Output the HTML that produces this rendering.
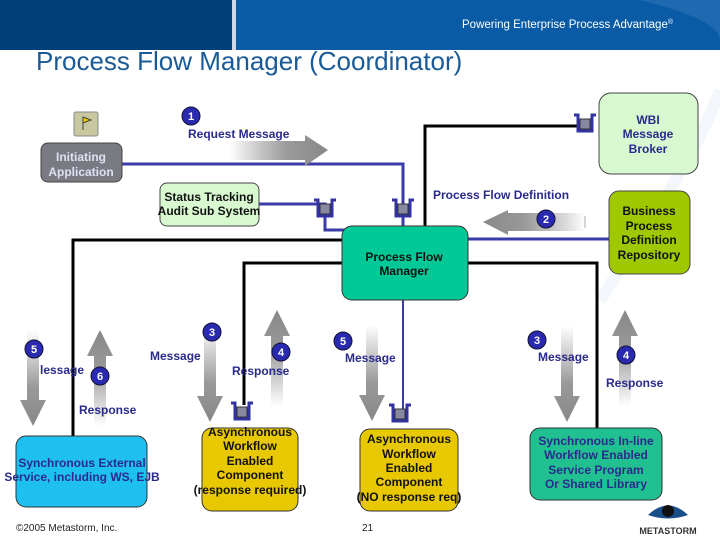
<!DOCTYPE html>
<html><head><meta charset="utf-8"><style>
body{margin:0;width:720px;height:540px;overflow:hidden;background:#fff}
svg{display:block}
text{font-family:"Liberation Sans Narrow","Liberation Sans",sans-serif}
.l{font-size:12px;font-weight:bold;fill:#2a2a8c}
.b{font-size:12px;font-weight:bold;fill:#111}
.n{font-size:11px;font-weight:bold;fill:#fff}
</style></head><body>
<svg width="720" height="540" viewBox="0 0 720 540">
<defs>
<linearGradient id="gh" x1="0" x2="1" y1="0" y2="0"><stop offset="0" stop-color="#888" stop-opacity="0"/><stop offset="0.6" stop-color="#999"/><stop offset="1" stop-color="#888"/></linearGradient>
<linearGradient id="ghl" x1="1" x2="0" y1="0" y2="0"><stop offset="0" stop-color="#888" stop-opacity="0"/><stop offset="0.6" stop-color="#999"/><stop offset="1" stop-color="#888"/></linearGradient>
<linearGradient id="gd" x1="0" x2="0" y1="0" y2="1"><stop offset="0" stop-color="#999" stop-opacity="0"/><stop offset="0.6" stop-color="#999"/><stop offset="1" stop-color="#888"/></linearGradient>
<linearGradient id="gu" x1="0" x2="0" y1="1" y2="0"><stop offset="0" stop-color="#999" stop-opacity="0"/><stop offset="0.6" stop-color="#999"/><stop offset="1" stop-color="#888"/></linearGradient>
<g id="q"><path d="M-11,0 h4 v16 h14 v-16 h4" fill="none" stroke="#3232a0" stroke-width="3"/><rect x="-5" y="4" width="10" height="10" fill="#8888a0" stroke="#333" stroke-width="1"/></g>
<g id="dn"><path d="M-6,0 h12 v70 h7 l-13,26 l-13,-26 h7z" fill="url(#gd)"/></g>
<g id="up"><path d="M-6,96 h12 v-70 h7 l-13,-26 l-13,26 h7z" fill="url(#gu)"/></g>
</defs>
<!-- header -->
<rect x="0" y="0" width="720" height="50" fill="#0a5ba6"/>
<rect x="0" y="0" width="232" height="50" fill="#003f7a"/>
<rect x="232" y="0" width="4" height="50" fill="#d0d8e8"/>
<path d="M640,0 Q720,20 720,40 L720,0z" fill="#3377bb" opacity="0.5"/>
<text x="462" y="28" font-size="11.5" fill="#fff" style="font-family:'Liberation Sans',sans-serif">Powering Enterprise Process Advantage<tspan font-size="7" dy="-4">®</tspan></text>
<path d="M600,300 Q700,150 720,90" fill="none" stroke="#f3f6fa" stroke-width="12"/>
<text x="36" y="70" font-size="26" fill="#1a5a96" style="font-family:'Liberation Sans',sans-serif">Process Flow Manager (Coordinator)</text>

<!-- connectors -->
<path d="M122,164 H403 V226" fill="none" stroke="#3a3aa8" stroke-width="3"/>
<path d="M259,204 H325 V230 H392" fill="none" stroke="#3a3aa8" stroke-width="3"/>
<path d="M609,239 H468" fill="none" stroke="#3a3aa8" stroke-width="3"/>
<path d="M403,300 V412" fill="none" stroke="#3a3aa8" stroke-width="2"/>
<path d="M585,126 H425 V226" fill="none" stroke="#000" stroke-width="3"/>
<path d="M342,240 H73 V436" fill="none" stroke="#000" stroke-width="3"/>
<path d="M342,263 H244 V405" fill="none" stroke="#000" stroke-width="3"/>
<path d="M468,263 H597 V428" fill="none" stroke="#000" stroke-width="3"/>

<!-- queues -->
<use href="#q" x="585" y="115"/>
<use href="#q" x="325" y="200"/>
<use href="#q" x="403" y="200"/>
<use href="#q" x="242" y="403"/>
<use href="#q" x="400" y="405"/>

<!-- top boxes -->
<rect x="74" y="112" width="24" height="24" rx="2" fill="#c8c8a0" stroke="#888"/>
<path d="M83,130 V117 l8,3 l-8,3" fill="#f0c800" stroke="#444" stroke-width="1"/>
<rect x="41" y="143" width="81" height="39" rx="7" fill="#7a7a82" stroke="#444"/>
<text x="81" y="161" text-anchor="middle" font-size="12" font-weight="bold" fill="#e0e0f4">Initiating</text>
<text x="81" y="176" text-anchor="middle" font-size="12" font-weight="bold" fill="#e0e0f4">Application</text>

<path d="M230,141 H305 V135 L328,150 L305,166 V160 H230z" fill="url(#gh)"/>
<circle cx="191" cy="116" r="9" fill="#2a2ab0" stroke="#113"/><text x="191" y="120" text-anchor="middle" class="n">1</text>
<text x="188" y="138" class="l">Request Message</text>

<rect x="160" y="183" width="99" height="43" rx="7" fill="#d8f8d0" stroke="#444"/>
<text x="209" y="201" text-anchor="middle" class="b">Status Tracking</text>
<text x="209" y="215" text-anchor="middle" class="b">Audit Sub System</text>

<rect x="599" y="93" width="99" height="81" rx="12" fill="#d8f8d0" stroke="#444"/>
<text x="648" y="124" text-anchor="middle" class="l">WBI</text>
<text x="648" y="138" text-anchor="middle" class="l">Message</text>
<text x="648" y="153" text-anchor="middle" class="l">Broker</text>

<text x="433" y="199" class="l">Process Flow Definition</text>
<path d="M585,213 H508 V210 L483,222 L508,235 V231 H585z" fill="url(#ghl)"/>
<line x1="585" y1="216" x2="585" y2="228" stroke="#aaa"/>
<circle cx="546" cy="219" r="9" fill="#2a2ab0" stroke="#113"/><text x="546" y="223" text-anchor="middle" class="n">2</text>

<rect x="609" y="191" width="81" height="83" rx="10" fill="#a0c800" stroke="#444"/>
<text x="649" y="215" text-anchor="middle" class="b">Business</text>
<text x="649" y="230" text-anchor="middle" class="b">Process</text>
<text x="649" y="244" text-anchor="middle" class="b">Definition</text>
<text x="649" y="259" text-anchor="middle" class="b">Repository</text>

<rect x="342" y="226" width="126" height="74" rx="10" fill="#00c896" stroke="#333"/>
<text x="404" y="261" text-anchor="middle" class="b" fill="#222">Process Flow</text>
<text x="404" y="275" text-anchor="middle" class="b">Manager</text>

<!-- vertical arrows -->
<use href="#dn" x="33" y="330"/>
<use href="#up" x="100" y="330"/>
<use href="#dn" x="210" y="326"/>
<use href="#up" x="277" y="310"/>
<use href="#dn" x="372" y="325"/>
<use href="#dn" x="567" y="326"/>
<use href="#up" x="625" y="310"/>

<circle cx="34" cy="349" r="9" fill="#2a2ab0" stroke="#113"/><text x="34" y="353" text-anchor="middle" class="n">5</text>
<text x="40" y="374" class="l">lessage</text>
<circle cx="100" cy="376" r="9" fill="#2a2ab0" stroke="#113"/><text x="100" y="380" text-anchor="middle" class="n">6</text>
<text x="79" y="414" class="l">Response</text>

<circle cx="212" cy="332" r="9" fill="#2a2ab0" stroke="#113"/><text x="212" y="336" text-anchor="middle" class="n">3</text>
<text x="150" y="360" class="l">Message</text>
<circle cx="281" cy="352" r="9" fill="#2a2ab0" stroke="#113"/><text x="281" y="356" text-anchor="middle" class="n">4</text>
<text x="232" y="375" class="l">Response</text>

<circle cx="343" cy="341" r="9" fill="#2a2ab0" stroke="#113"/><text x="343" y="345" text-anchor="middle" class="n">5</text>
<text x="345" y="362" class="l">Message</text>

<circle cx="537" cy="340" r="9" fill="#2a2ab0" stroke="#113"/><text x="537" y="344" text-anchor="middle" class="n">3</text>
<text x="538" y="361" class="l">Message</text>
<circle cx="626" cy="355" r="9" fill="#2a2ab0" stroke="#113"/><text x="626" y="359" text-anchor="middle" class="n">4</text>
<text x="606" y="387" class="l">Response</text>

<!-- bottom boxes -->
<rect x="16" y="436" width="131" height="71" rx="10" fill="#1ec0f0" stroke="#333"/>
<text x="82" y="467" text-anchor="middle" class="l" fill="#1a2a80">Synchronous External</text>
<text x="82" y="481" text-anchor="middle" class="l" fill="#1a2a80">Service, including WS, EJB</text>

<rect x="202" y="428" width="96" height="83" rx="10" fill="#e8c800" stroke="#333"/>
<text x="250" y="436" text-anchor="middle" class="b">Asynchronous</text>
<text x="250" y="450" text-anchor="middle" class="b">Workflow</text>
<text x="250" y="465" text-anchor="middle" class="b">Enabled</text>
<text x="250" y="479" text-anchor="middle" class="b">Component</text>
<text x="250" y="494" text-anchor="middle" class="b">(response required)</text>

<rect x="360" y="429" width="98" height="82" rx="10" fill="#e8c800" stroke="#333"/>
<text x="409" y="443" text-anchor="middle" class="b">Asynchronous</text>
<text x="409" y="458" text-anchor="middle" class="b">Workflow</text>
<text x="409" y="472" text-anchor="middle" class="b">Enabled</text>
<text x="409" y="486" text-anchor="middle" class="b">Component</text>
<text x="409" y="501" text-anchor="middle" class="b">(NO response req)</text>

<rect x="530" y="428" width="132" height="72" rx="10" fill="#20c090" stroke="#333"/>
<text x="596" y="445" text-anchor="middle" class="l" fill="#1a2a80">Synchronous In-line</text>
<text x="596" y="459" text-anchor="middle" class="l" fill="#1a2a80">Workflow Enabled</text>
<text x="596" y="474" text-anchor="middle" class="l" fill="#1a2a80">Service Program</text>
<text x="596" y="488" text-anchor="middle" class="l" fill="#1a2a80">Or Shared Library</text>

<!-- footer -->
<text x="16" y="531" font-size="10" fill="#222">©2005 Metastorm, Inc.</text>
<text x="362" y="531" font-size="10" fill="#222">21</text>
<path d="M648,515 Q668,496 688,515 Q668,522 648,515z" fill="#1a4f8a"/>
<circle cx="668" cy="511" r="6" fill="#111"/>
<text x="668" y="534" text-anchor="middle" font-size="9" font-weight="bold" fill="#333" style="font-family:'Liberation Sans',sans-serif">METASTORM</text>
</svg>
</body></html>
